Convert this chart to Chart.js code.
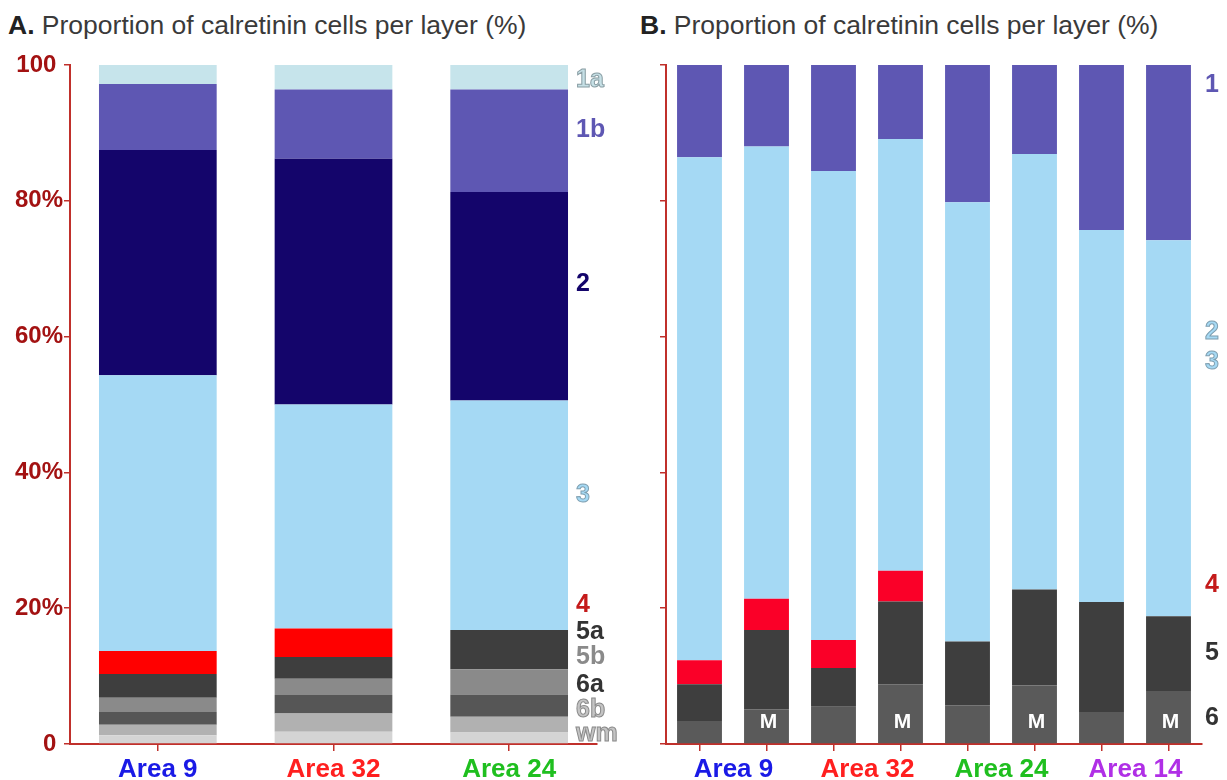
<!DOCTYPE html>
<html>
<head>
<meta charset="utf-8">
<script src="https://cdn.jsdelivr.net/npm/chart.js@4"></script>
<style>
  body { margin: 0; background: #fff; width: 1227px; height: 780px; position: relative; overflow: hidden; font-family: "Liberation Sans", Arial, sans-serif; }
  .title { position: absolute; top: 9px; font-size: 26.5px; line-height: 32px; color: #3a3a3a; white-space: nowrap; }
  .title b { color: #222; }
  #chartA { position: absolute; left: 0; top: 0; }
  #chartB { position: absolute; left: 635px; top: 0; }
</style>
</head>
<body>
<div class="title" style="left:8px"><b>A.</b> Proportion of calretinin cells per layer (%)</div>
<div class="title" style="left:640px"><b>B.</b> Proportion of calretinin cells per layer (%)</div>
<canvas id="chartA" width="635" height="780"></canvas>
<canvas id="chartB" width="592" height="780"></canvas>
<script>
// ---- panel A data (percent of cells per layer, bottom to top) ----
const areasA = ['Area 9', 'Area 32', 'Area 24'];
const wmA  = [1.3, 1.8, 1.7];
const l6bA = [1.55, 2.7, 2.3];
const l6aA = [1.85, 2.7, 3.3];
const l5bA = [2.1, 2.4, 3.7];
const l5aA = [3.5, 3.2, 5.8];
const l4A  = [3.4, 4.2, 0];
const l3A  = [40.6, 33.0, 33.8];
const l2A  = [33.2, 36.2, 30.7];
const l1bA = [9.7, 10.2, 15.1];
const l1aA = [2.8, 3.6, 3.6];

// ---- panel B data (two bars per area, second one marked M) ----
const barsB = ['Area 9', 'Area 9 M', 'Area 32', 'Area 32 M', 'Area 24', 'Area 24 M', 'Area 14', 'Area 14 M'];
const marksB = ['', 'M', '', 'M', '', 'M', '', 'M'];
const l6B  = [3.4, 5.1, 5.5, 8.8, 5.7, 8.6, 4.7, 7.8];
const l5B  = [5.4, 11.7, 5.7, 12.2, 9.4, 14.15, 16.2, 11.0];
const l4B  = [3.55, 4.6, 4.1, 4.5, 0, 0, 0, 0];
const l23B = [74.05, 66.6, 69.1, 63.6, 64.7, 64.15, 54.8, 55.4];
const l1B  = [13.6, 12.0, 15.6, 10.9, 20.2, 13.1, 24.3, 25.8];

const areaColors = ['#1a1ae6', '#ff1f1f', '#1fbf1f', '#b02fe6'];
const axisRed = '#c0302b';
const font = '"Liberation Sans", Arial, sans-serif';

// layer names drawn on the right of each panel
const sideLabels = {
    id: 'sideLabels',
    afterDraw(chart, args, opts) {
        const ctx = chart.ctx;
        const y = chart.scales.y;
        ctx.save();
        ctx.font = 'bold 25px ' + font;
        ctx.textBaseline = 'middle';
        opts.items.forEach(it => {
            const py = y.getPixelForValue(it.at);
            ctx.fillStyle = it.color;
            ctx.fillText(it.text, opts.x, py);
            if (it.stroke) {
                ctx.strokeStyle = it.stroke;
                ctx.lineWidth = 1;
                ctx.strokeText(it.text, opts.x, py);
            }
        });
        ctx.restore();
    }
};

// white "M" inside the bottom segment of marked bars
const barMarks = {
    id: 'barMarks',
    afterDatasetsDraw(chart, args, opts) {
        if (!opts.marks) return;
        const ctx = chart.ctx;
        const meta = chart.getDatasetMeta(0);
        const base = chart.scales.y.getPixelForValue(0);
        ctx.save();
        ctx.font = 'bold 21px ' + font;
        ctx.fillStyle = '#ffffff';
        ctx.textAlign = 'center';
        ctx.textBaseline = 'middle';
        opts.marks.forEach((m, i) => {
            if (m) ctx.fillText(m, meta.data[i].x + 2, base - 22);
        });
        ctx.restore();
    }
};

function yAxis(showLabels, width) {
    return {
        stacked: true,
        min: 0,
        max: 100,
        ticks: {
            display: showLabels,
            stepSize: 20,
            color: '#a31212',
            padding: 1,
            font: { family: font, size: 24, weight: 'bold' },
            callback: v => v === 100 ? '100 ' : (v === 0 ? '0 ' : v + '%')
        },
        grid: { drawOnChartArea: false, color: axisRed, tickLength: 6, lineWidth: 1.5 },
        border: { color: axisRed, width: 2 },
        afterFit: s => { s.width = width; }
    };
}

function ds(label, data, color) {
    return { label: label, data: data, backgroundColor: color, borderWidth: 0, barPercentage: 0.67, categoryPercentage: 1 };
}

new Chart(document.getElementById('chartA'), {
    type: 'bar',
    data: {
        labels: areasA,
        datasets: [
            ds('wm', wmA, '#d4d4d4'),
            ds('6b', l6bA, '#b1b1b1'),
            ds('6a', l6aA, '#565656'),
            ds('5b', l5bA, '#8a8a8a'),
            ds('5a', l5aA, '#3e3e3e'),
            ds('4', l4A, '#ff0000'),
            ds('3', l3A, '#a5d9f4'),
            ds('2', l2A, '#14056b'),
            ds('1b', l1bA, '#5e57b3'),
            ds('1a', l1aA, '#c6e4eb')
        ]
    },
    options: {
        responsive: false,
        animation: false,
        layout: { padding: { top: 65, right: 38, left: 0, bottom: 0 } },
        plugins: {
            legend: { display: false },
            tooltip: { enabled: false },
            sideLabels: {
                x: 576,
                items: [
                    { text: '1a', at: 97.8, color: '#c6e0e6', stroke: '#8a9ea4' },
                    { text: '1b', at: 90.4, color: '#5e57b3' },
                    { text: '2', at: 67.8, color: '#14056b' },
                    { text: '3', at: 36.6, color: '#a5d9f4', stroke: '#7f9fb0' },
                    { text: '4', at: 20.5, color: '#c41a1a' },
                    { text: '5a', at: 16.5, color: '#333333' },
                    { text: '5b', at: 12.8, color: '#8a8a8a' },
                    { text: '6a', at: 8.7, color: '#333333' },
                    { text: '6b', at: 5.0, color: '#c4c4c4', stroke: '#8a8a8a' },
                    { text: 'wm', at: 1.5, color: '#c4c4c4', stroke: '#8a8a8a' }
                ]
            }
        },
        scales: {
            x: {
                stacked: true,
                offset: true,
                ticks: {
                    color: ctx => areaColors[ctx.index],
                    padding: 3,
                    font: { family: font, size: 26, weight: 'bold' }
                },
                grid: { offset: false, drawOnChartArea: false, color: axisRed, tickLength: 7, lineWidth: 1.5 },
                border: { color: axisRed, width: 2 },
                afterFit: s => { s.height = 36; }
            },
            y: yAxis(true, 70)
        }
    },
    plugins: [sideLabels]
});

new Chart(document.getElementById('chartB'), {
    type: 'bar',
    data: {
        labels: barsB,
        datasets: [
            ds('6', l6B, '#5a5a5a'),
            ds('5', l5B, '#3e3e3e'),
            ds('4', l4B, '#fa0028'),
            ds('2/3', l23B, '#a5d9f4'),
            ds('1', l1B, '#5e57b3')
        ]
    },
    options: {
        responsive: false,
        animation: false,
        layout: { padding: { top: 65, right: 25, left: 0, bottom: 0 } },
        plugins: {
            legend: { display: false },
            tooltip: { enabled: false },
            barMarks: { marks: marksB },
            sideLabels: {
                x: 570,
                items: [
                    { text: '1', at: 97.1, color: '#5e57b3' },
                    { text: '2', at: 60.6, color: '#a5d9f4', stroke: '#7f9fb0' },
                    { text: '3', at: 56.3, color: '#a5d9f4', stroke: '#7f9fb0' },
                    { text: '4', at: 23.4, color: '#c41a1a' },
                    { text: '5', at: 13.4, color: '#333333' },
                    { text: '6', at: 3.8, color: '#333333' }
                ]
            }
        },
        scales: {
            x: {
                stacked: true,
                offset: true,
                ticks: {
                    autoSkip: false,
                    maxRotation: 0,
                    labelOffset: 34,
                    padding: 3,
                    color: ctx => areaColors[Math.floor(ctx.index / 2)],
                    font: { family: font, size: 26, weight: 'bold' },
                    callback: function (v, i) { return i % 2 === 0 ? this.getLabelForValue(v) : ''; }
                },
                grid: { offset: false, drawOnChartArea: false, color: axisRed, tickLength: 7, lineWidth: 1.5 },
                border: { color: axisRed, width: 2 },
                afterFit: s => { s.height = 36; }
            },
            y: yAxis(false, 31)
        }
    },
    plugins: [sideLabels, barMarks]
});
</script>
</body>
</html>
